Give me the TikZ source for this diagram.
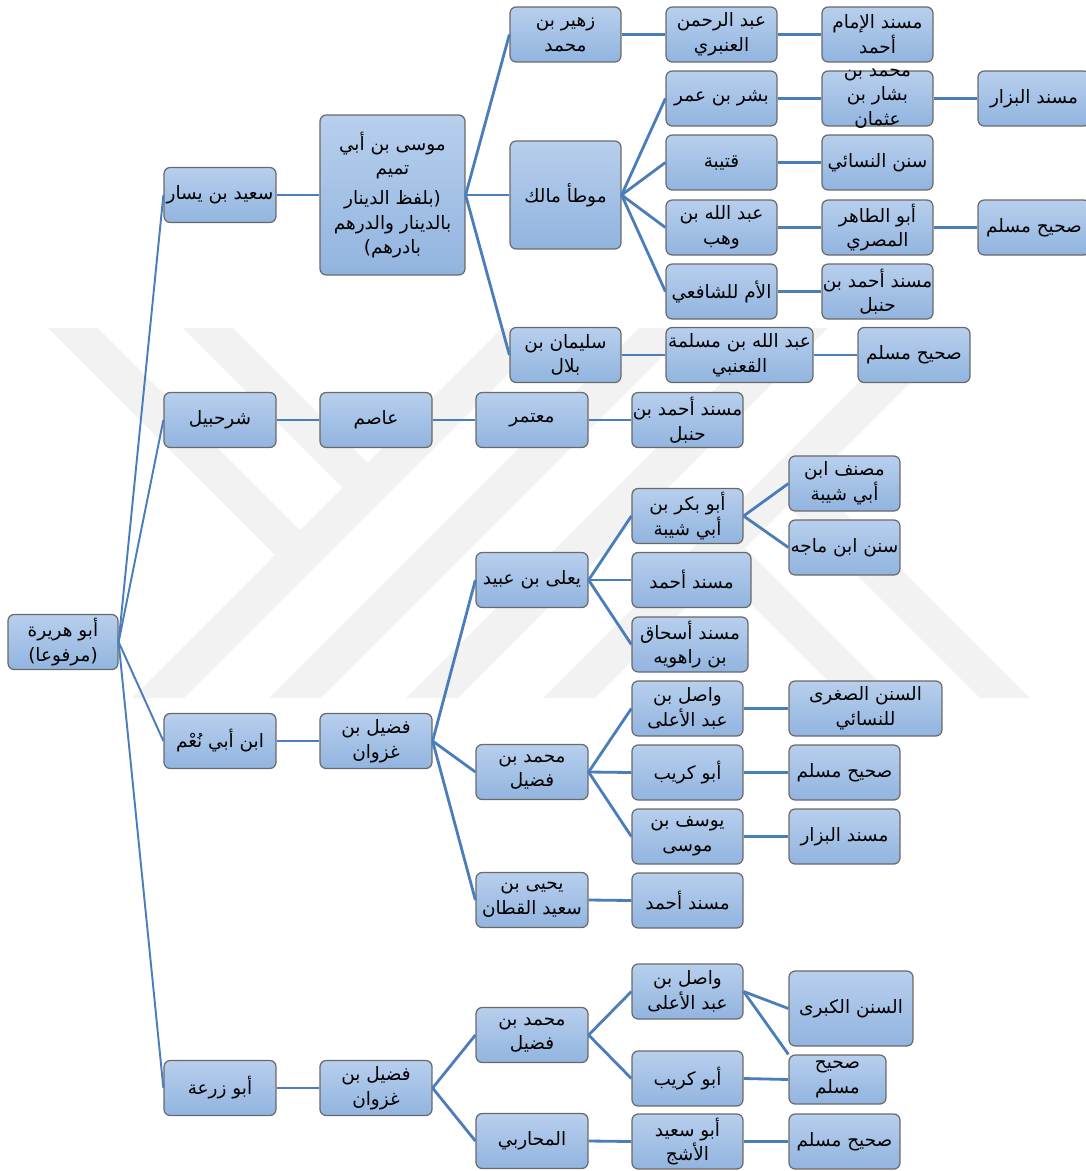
\documentclass[tikz,border=0pt]{standalone}
\usepackage{fontspec}
\usepackage{tikz}
\newfontfamily\arabicfont[Script=Arabic]{DejaVu Sans}
\TeXXeTstate=1
\newcommand{\arline}[1]{\beginR #1\endR}
\definecolor{boxtop}{RGB}{184,207,237}
\definecolor{boxbot}{RGB}{145,180,223}
\definecolor{boxline}{RGB}{105,105,105}
\definecolor{linkblue}{RGB}{74,126,187}
\tikzset{
    rawi/.style={
           rectangle,
           rounded corners=3.5pt,
           draw=boxline, line width=0.7pt,
           top color=boxtop, bottom color=boxbot,
           minimum width=2.22cm,
           minimum height=1.1cm,
           inner sep=0.5pt,
           align=center,
           font=\arabicfont\fontsize{10.5}{14}\selectfont,
           },
    link/.style={draw=linkblue, line width=1.6pt},
    wmark/.style={fill=gray!10},
}
\begin{document}
\begin{tikzpicture}[x=0.02cm, y=-0.02cm]
    \useasboundingbox (0,0) rectangle (1086,1171);

    % faint watermark behind the tree
    \fill[wmark] (48,328) -- (98,328) -- (300,530) -- (275,555) -- cycle;
    \fill[wmark] (183,328) -- (233,328) -- (367.5,462.5) -- (342.5,487.5) -- cycle;
    \fill[wmark] (502,328) -- (554,328) -- (184,698) -- (132,698) -- cycle;
    \fill[wmark] (639,328) -- (691,328) -- (321,698) -- (269,698) -- cycle;
    \fill[wmark] (776,328) -- (828,328) -- (458,698) -- (406,698) -- cycle;
    \fill[wmark] (913,328) -- (965,328) -- (595,698) -- (543,698) -- cycle;
    \fill[wmark] (720,573) -- (745,548) -- (895,698) -- (845,698) -- cycle;
    \fill[wmark] (787.5,505.5) -- (812.5,480.5) -- (1030,698) -- (980,698) -- cycle;

    % the companion
    \node[rawi, minimum width=2.2cm] (root) at (63,642)
        {\arline{أبو هريرة}\\\arline{(مرفوعا)}};

    % first level
    \node[rawi, minimum width=2.24cm] (said) at (220,195) {\arline{سعيد بن يسار}};
    \node[rawi, minimum width=2.24cm] (shur) at (220,420) {\arline{شرحبيل}};
    \node[rawi, minimum width=2.24cm] (nuam) at (220,741) {\arline{ابن أبي نُعْم}};
    \node[rawi, minimum width=2.24cm] (zura) at (220,1088) {\arline{أبو زرعة}};

    % second level
    \node[rawi, minimum width=2.9cm, minimum height=3.2cm] (musa) at (392.5,195)
        {\arline{موسى بن أبي}\\\arline{تميم}\\[3pt]\arline{(بلفظ الدينار}\\
         \arline{بالدينار والدرهم}\\\arline{بادرهم)}};
    \node[rawi, minimum width=2.24cm] (asim) at (376,420) {\arline{عاصم}};
    \node[rawi, minimum width=2.24cm] (fudA) at (376,741) {\arline{فضيل بن}\\\arline{غزوان}};
    \node[rawi, minimum width=2.24cm] (fudB) at (376,1088) {\arline{فضيل بن}\\\arline{غزوان}};

    % third level
    \node[rawi] (zuhayr) at (565.5,34.5) {\arline{زهير بن}\\\arline{محمد}};
    \node[rawi, minimum height=2.16cm] (muwatta) at (565.5,195) {\arline{موطأ مالك}};
    \node[rawi] (sulayman) at (565.5,355) {\arline{سليمان بن}\\\arline{بلال}};
    \node[rawi, minimum width=2.24cm] (mutamir) at (532,420) {\arline{معتمر}};
    \node[rawi, minimum width=2.24cm] (yala) at (532,580) {\arline{يعلى بن عبيد}};
    \node[rawi, minimum width=2.24cm] (mfudA) at (532,772) {\arline{محمد بن}\\\arline{فضيل}};
    \node[rawi, minimum width=2.24cm] (yahya) at (532,900) {\arline{يحيى بن}\\\arline{سعيد القطان}};
    \node[rawi, minimum width=2.24cm] (mfudB) at (532,1035) {\arline{محمد بن}\\\arline{فضيل}};
    \node[rawi, minimum width=2.24cm] (muharibi) at (532,1141) {\arline{المحاربي}};

    % fourth level
    \node[rawi] (anbari) at (721.5,34.5) {\arline{عبد الرحمن}\\\arline{العنبري}};
    \node[rawi] (bishr) at (721.5,98.5) {\arline{بشر بن عمر}};
    \node[rawi] (qutayba) at (721.5,162.5) {\arline{قتيبة}};
    \node[rawi] (wahb) at (721.5,227.5) {\arline{عبد الله بن}\\\arline{وهب}};
    \node[rawi] (umm) at (721.5,291.5) {\arline{الأم للشافعي}};
    \node[rawi, minimum width=2.94cm] (qanabi) at (739.5,355)
        {\arline{عبد الله بن مسلمة}\\\arline{القعنبي}};
    \node[rawi] (hanbalA) at (687.5,420) {\arline{مسند أحمد بن}\\\arline{حنبل}};
    \node[rawi] (abubakr) at (687.5,516) {\arline{أبو بكر بن}\\\arline{أبي شيبة}};
    \node[rawi, minimum width=2.38cm] (ahmadA) at (691.5,580) {\arline{مسند أحمد}};
    \node[rawi, minimum width=2.32cm] (rahwayh) at (690,644.5)
        {\arline{مسند أسحاق}\\\arline{بن راهويه}};
    \node[rawi] (wasilA) at (687.5,708.5) {\arline{واصل بن}\\\arline{عبد الأعلى}};
    \node[rawi] (kuraybA) at (687.5,772.5) {\arline{أبو كريب}};
    \node[rawi] (yusuf) at (687.5,836.5) {\arline{يوسف بن}\\\arline{موسى}};
    \node[rawi] (ahmadB) at (687.5,900.5) {\arline{مسند أحمد}};
    \node[rawi] (wasilB) at (687.5,991.5) {\arline{واصل بن}\\\arline{عبد الأعلى}};
    \node[rawi] (kuraybB) at (687.5,1078.5) {\arline{أبو كريب}};
    \node[rawi] (ashajj) at (687.5,1141.5) {\arline{أبو سعيد}\\\arline{الأشج}};

    % fifth level
    \node[rawi] (imam) at (877.5,34.5) {\arline{مسند الإمام}\\\arline{أحمد}};
    \node[rawi] (bashshar) at (877.5,98.5) {};
    \node[font=\arabicfont\fontsize{10.5}{14}\selectfont, align=center,
          inner sep=0pt] (bashshartext) at (bashshar)
        {\arline{محمد بن}\\\arline{بشار بن}\\\arline{عثمان}};
    \node[rawi] (nasai) at (877.5,162.5) {\arline{سنن النسائي}};
    \node[rawi] (tahir) at (877.5,227.5) {\arline{أبو الطاهر}\\\arline{المصري}};
    \node[rawi] (hanbalB) at (877.5,291.5) {\arline{مسند أحمد بن}\\\arline{حنبل}};
    \node[rawi, minimum width=2.24cm] (muslimA) at (914,355) {\arline{صحيح مسلم}};
    \node[rawi] (musannaf) at (844.5,483.5) {\arline{مصنف ابن}\\\arline{أبي شيبة}};
    \node[rawi] (majah) at (844.5,547.5) {\arline{سنن ابن ماجه}};
    \node[rawi, minimum width=3.06cm] (sughra) at (865.5,708.5)
        {\arline{السنن الصغرى}\\\arline{للنسائي}};
    \node[rawi] (muslimB) at (844.5,772.5) {\arline{صحيح مسلم}};
    \node[rawi] (bazzarB) at (844.5,836.5) {\arline{مسند البزار}};
    \node[rawi, minimum width=2.48cm, minimum height=1.5cm] (kubra) at (851,1008.5)
        {\arline{السنن الكبرى}};
    \node[rawi, minimum width=1.94cm, minimum height=0.98cm] (muslimC) at (837.5,1079.5)
        {\arline{صحيح}\\\arline{مسلم}};
    \node[rawi] (muslimD) at (844.5,1141.5) {\arline{صحيح مسلم}};

    % sixth level
    \node[rawi, minimum width=2.24cm] (bazzarA) at (1034,98.5) {\arline{مسند البزار}};
    \node[rawi, minimum width=2.24cm] (muslimE) at (1034,227.5) {\arline{صحيح مسلم}};

    % the chains
    \begin{scope}[every edge/.style={link}]
    \path
        (root.east) edge[line width=1.1pt] (said.west)
        (root.east) edge[line width=1.1pt] (shur.west)
        (root.east) edge[line width=1.1pt] (nuam.west)
        (root.east) edge[line width=1.1pt] (zura.west)

        (said.east) edge (musa.west)
        (musa.east) edge (zuhayr.west)
        (musa.east) edge (muwatta.west)
        (musa.east) edge (sulayman.west)
        (zuhayr.east) edge (anbari.west)
        (anbari.east) edge (imam.west)
        (muwatta.east) edge (bishr.west)
        (muwatta.east) edge (qutayba.west)
        (muwatta.east) edge (wahb.west)
        (muwatta.east) edge (umm.west)
        (bishr.east) edge (bashshar.west)
        (bashshar.east) edge (bazzarA.west)
        (qutayba.east) edge (nasai.west)
        (wahb.east) edge (tahir.west)
        (tahir.east) edge (muslimE.west)
        (umm.east) edge (hanbalB.west)
        (sulayman.east) edge (qanabi.west)
        (qanabi.east) edge (muslimA.west)

        (shur.east) edge (asim.west)
        (asim.east) edge (mutamir.west)
        (mutamir.east) edge (hanbalA.west)

        (nuam.east) edge (fudA.west)
        (fudA.east) edge (yala.west)
        (fudA.east) edge (mfudA.west)
        (fudA.east) edge (yahya.west)
        (yala.east) edge (abubakr.west)
        (yala.east) edge (ahmadA.west)
        (yala.east) edge (rahwayh.west)
        (abubakr.east) edge (musannaf.west)
        (abubakr.east) edge (majah.west)
        (mfudA.east) edge (wasilA.west)
        (mfudA.east) edge (kuraybA.west)
        (mfudA.east) edge (yusuf.west)
        (wasilA.east) edge (sughra.west)
        (kuraybA.east) edge (muslimB.west)
        (yusuf.east) edge (bazzarB.west)
        (yahya.east) edge (ahmadB.west)

        (zura.east) edge (fudB.west)
        (fudB.east) edge (mfudB.west)
        (fudB.east) edge (muharibi.west)
        (mfudB.east) edge (wasilB.west)
        (mfudB.east) edge (kuraybB.west)
        (wasilB.east) edge (kubra.west)
        (wasilB.east) edge (muslimC.north west)
        (kuraybB.east) edge (muslimC.west)
        (muharibi.east) edge (ashajj.west)
        (ashajj.east) edge (muslimD.west);
    \end{scope}
\end{tikzpicture}
\end{document}
